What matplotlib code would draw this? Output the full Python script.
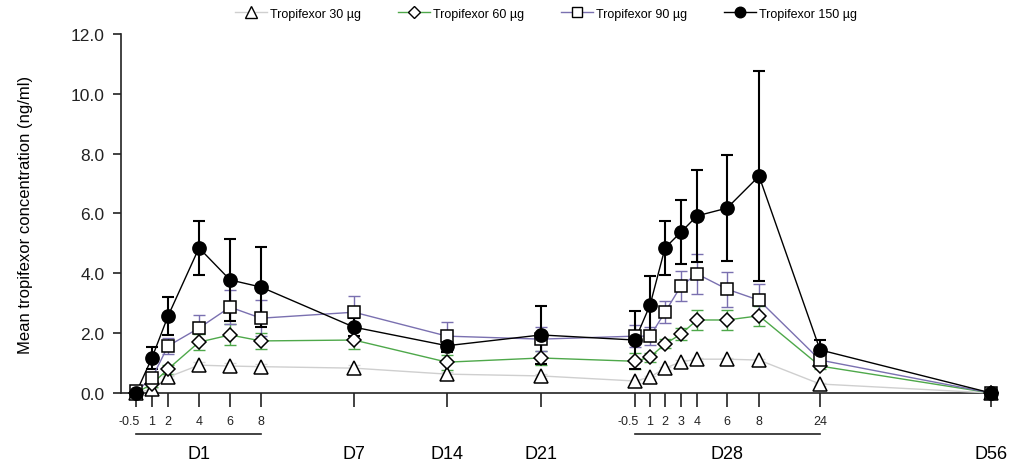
import numpy as np
import matplotlib.pyplot as plt
import matplotlib.transforms as mtransforms
from matplotlib.lines import Line2D
from matplotlib import rcParams
rcParams['font.family'] = 'sans-serif'
rcParams['font.sans-serif'] = ['Liberation Sans', 'DejaVu Sans']

# sampling times (hour labels) and the day groups they belong to
hour_labels = ['-0.5', '1', '2', '4', '6', '8', '', '', '',
               '-0.5', '1', '2', '3', '4', '6', '8', '24', '']
day_labels = ['D1', 'D7', 'D14', 'D21', 'D28', 'D56']

# mean concentration (ng/ml) and SD for each dose
mean_30 = [0.0, 0.13, 0.53, 0.93, 0.90, 0.88, 0.83, 0.63, 0.57,
           0.40, 0.53, 0.83, 1.04, 1.13, 1.13, 1.10, 0.30, 0.0]
sd_30 = [0.0, 0.05, 0.05, 0.12, 0.10, 0.10, 0.10, 0.08, 0.08,
         0.05, 0.05, 0.05, 0.05, 0.05, 0.05, 0.05, 0.05, 0.0]
mean_60 = [0.0, 0.30, 0.80, 1.70, 1.94, 1.74, 1.77, 1.03, 1.17,
           1.06, 1.20, 1.64, 1.97, 2.44, 2.44, 2.58, 0.90, 0.0]
sd_60 = [0.02, 0.10, 0.15, 0.27, 0.35, 0.27, 0.30, 0.25, 0.25,
         0.27, 0.15, 0.15, 0.20, 0.33, 0.32, 0.34, 0.10, 0.0]
mean_90 = [0.05, 0.50, 1.57, 2.17, 2.87, 2.50, 2.70, 1.90, 1.80,
           1.90, 1.90, 2.70, 3.58, 3.98, 3.47, 3.10, 1.10, 0.0]
sd_90 = [0.05, 0.15, 0.27, 0.43, 0.57, 0.60, 0.54, 0.47, 0.40,
         0.37, 0.30, 0.37, 0.50, 0.67, 0.58, 0.55, 0.20, 0.0]
mean_150 = [0.0, 1.18, 2.57, 4.85, 3.78, 3.54, 2.20, 1.58, 1.94,
            1.77, 2.94, 4.85, 5.38, 5.92, 6.18, 7.25, 1.44, 0.0]
sd_150 = [0.05, 0.37, 0.63, 0.90, 1.37, 1.34, 0.30, 0.20, 0.98,
          0.97, 0.98, 0.90, 1.07, 1.53, 1.77, 3.52, 0.33, 0.0]

# layout: position of each sampling time along the (non-linear) x axis
xpos = np.array([15, 31, 47, 78, 109, 140, 233, 326, 420,
                 514, 529, 544, 560, 576, 606, 638, 699, 870])
day_pos = [78, 233, 326, 420, 606, 870]
group_spans = [(15, 140), (514, 699)]

series = [
    ('Tropifexor 30 µg', mean_30, sd_30, '#cfcfcf', '#d8d8d8', '^', 10, 1.0),
    ('Tropifexor 60 µg', mean_60, sd_60, '#4ea84a', '#4ea84a', 'D', 7.5, 1.0),
    ('Tropifexor 90 µg', mean_90, sd_90, '#7a70b0', '#7a70b0', 's', 9, 1.0),
    ('Tropifexor 150 µg', mean_150, sd_150, '#000000', '#000000', 'o', 9.5, 1.5),
]

fig = plt.figure(figsize=(10.11, 4.64), dpi=100)
ax = fig.add_axes([0.1197, 0.1509, 0.8675, 0.7737])

handles = []
for i, (lab, m, s, lc, ec, mk, ms, elw) in enumerate(series):
    ax.errorbar(xpos, m, yerr=s, fmt='none', ecolor=ec, elinewidth=elw,
                capsize=4, capthick=elw, zorder=2, clip_on=False)
    ax.plot(xpos, m, '-', color=lc, lw=1.0, zorder=3 + i * 0.1, clip_on=False)
for i, (lab, m, s, lc, ec, mk, ms, elw) in enumerate(series):
    fc = 'black' if mk == 'o' else 'white'
    ax.plot(xpos, m, linestyle='none', marker=mk, ms=ms, mfc=fc, mec='black',
            mew=1.1, zorder=5 + i, clip_on=False)
    handles.append(Line2D([], [], color=lc, lw=1.0, marker=mk, ms=ms * 0.8,
                          mfc=fc, mec='black', mew=1.0))

ax.set_xlim(0, 877)
ax.set_ylim(0, 12)
ax.set_yticks(np.arange(0, 12.1, 2))
ax.set_yticklabels(['%.1f' % v for v in np.arange(0, 12.1, 2)], fontsize=12.5)
ax.set_xticks(xpos)
ax.set_xticklabels(hour_labels, fontsize=9)
ax.tick_params(axis='x', direction='out', length=10, width=1.2, pad=6, colors='#222222')
ax.tick_params(axis='y', direction='out', length=6, width=1.2, pad=6, colors='#222222')
# the "-0.5" labels sit a little left of their ticks
shift = mtransforms.ScaledTranslation(-5 / 72, 0, fig.dpi_scale_trans)
for t in ax.get_xticklabels():
    if t.get_text() == '-0.5':
        t.set_transform(t.get_transform() + shift)
ax.spines['top'].set_visible(False)
ax.spines['right'].set_visible(False)
for sp in ['left', 'bottom']:
    ax.spines[sp].set_color('#222222')
    ax.spines[sp].set_linewidth(1.2)
ax.set_ylabel('Mean tropifexor concentration (ng/ml)', fontsize=12, labelpad=27)

trans = ax.get_xaxis_transform()
for a, b in group_spans:
    ax.plot([a, b], [-0.114, -0.114], color='#222222', lw=1.2, transform=trans, clip_on=False)
for p, d in zip(day_pos, day_labels):
    ax.text(p, -0.168, d, transform=trans, ha='center', va='center', fontsize=13)

fig.legend(handles, [s[0] for s in series], loc='center', ncol=4,
           bbox_to_anchor=(0.54, 0.968), frameon=False, fontsize=9,
           handlelength=2.6, handletextpad=0.25, columnspacing=2.9)

plt.savefig('out.png', dpi=100)
